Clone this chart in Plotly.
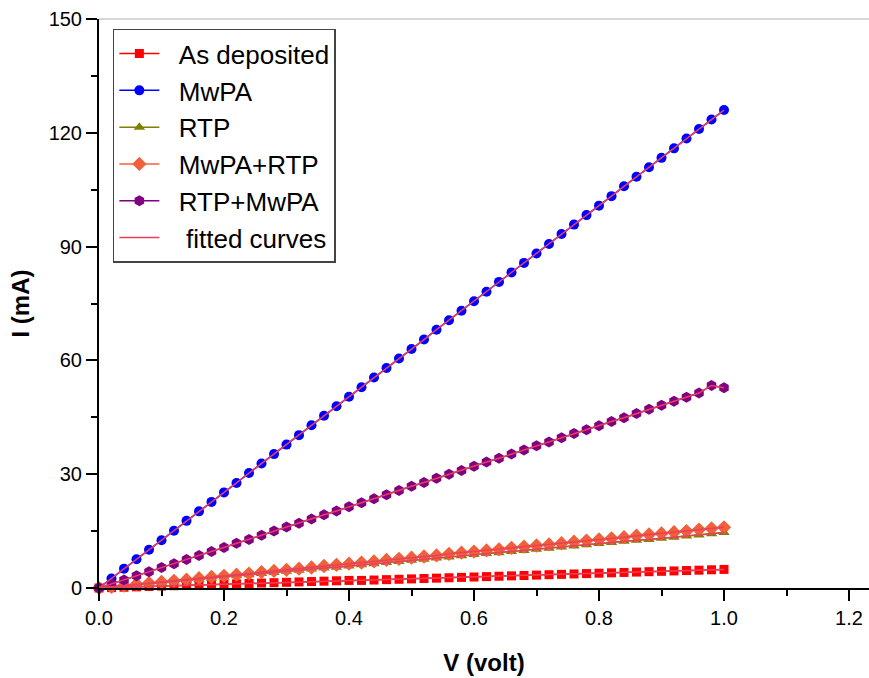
import plotly.graph_objects as go

# Bias voltage (V) for every sweep
voltage = [0.00, 0.02, 0.04, 0.06, 0.08, 0.10, 0.12, 0.14, 0.16, 0.18,
           0.20, 0.22, 0.24, 0.26, 0.28, 0.30, 0.32, 0.34, 0.36, 0.38,
           0.40, 0.42, 0.44, 0.46, 0.48, 0.50, 0.52, 0.54, 0.56, 0.58,
           0.60, 0.62, 0.64, 0.66, 0.68, 0.70, 0.72, 0.74, 0.76, 0.78,
           0.80, 0.82, 0.84, 0.86, 0.88, 0.90, 0.92, 0.94, 0.96, 0.98, 1.00]

# Measured current (mA)
i_as_deposited = [0, 0.1, 0.2, 0.3, 0.4, 0.5, 0.6, 0.7, 0.8, 0.9,
                  1.0, 1.1, 1.2, 1.3, 1.4, 1.5, 1.6, 1.7, 1.8, 1.9,
                  2.0, 2.0, 2.1, 2.2, 2.3, 2.4, 2.5, 2.6, 2.7, 2.8,
                  2.9, 3.0, 3.1, 3.2, 3.3, 3.4, 3.5, 3.6, 3.7, 3.8,
                  3.9, 4.0, 4.1, 4.2, 4.3, 4.4, 4.5, 4.6, 4.7, 4.8, 4.9]
i_mwpa = [0, 2.5, 5.1, 7.6, 10.1, 12.6, 15.1, 17.7, 20.2, 22.7,
          25.2, 27.7, 30.3, 32.8, 35.3, 37.8, 40.3, 42.9, 45.4, 47.9,
          50.4, 52.9, 55.5, 58.0, 60.5, 63.0, 65.5, 68.1, 70.6, 73.1,
          75.6, 78.1, 80.7, 83.2, 85.7, 88.2, 90.7, 93.3, 95.8, 98.3,
          100.8, 103.3, 105.9, 108.4, 110.9, 113.4, 115.9, 118.5, 121.0, 123.5, 126.0]
i_rtp = [0, 0.3, 0.6, 0.9, 1.2, 1.5, 1.8, 2.0, 2.3, 2.6,
         2.9, 3.2, 3.5, 3.8, 4.1, 4.4, 4.7, 5.0, 5.3, 5.5,
         5.8, 6.1, 6.4, 6.7, 7.0, 7.3, 7.6, 7.9, 8.2, 8.5,
         8.8, 9.1, 9.3, 9.6, 9.9, 10.2, 10.5, 10.8, 11.1, 11.4,
         11.7, 12.0, 12.3, 12.6, 12.8, 13.1, 13.4, 13.7, 14.0, 14.3, 14.6]
i_mwpa_rtp = [0, 0.3, 0.6, 1.0, 1.3, 1.6, 1.9, 2.2, 2.6, 2.9,
              3.2, 3.5, 3.8, 4.2, 4.5, 4.8, 5.1, 5.4, 5.8, 6.1,
              6.4, 6.7, 7.0, 7.4, 7.7, 8.0, 8.3, 8.6, 9.0, 9.3,
              9.6, 9.9, 10.2, 10.6, 10.9, 11.2, 11.5, 11.8, 12.2, 12.5,
              12.8, 13.1, 13.4, 13.8, 14.1, 14.4, 14.7, 15.0, 15.4, 15.7, 16.0]
i_rtp_mwpa = [0, 1.1, 2.1, 3.2, 4.3, 5.4, 6.4, 7.5, 8.6, 9.6,
              10.7, 11.8, 12.8, 13.9, 15.0, 16.1, 17.1, 18.2, 19.3, 20.3,
              21.4, 22.5, 23.5, 24.6, 25.7, 26.8, 27.8, 28.9, 30.0, 31.0,
              32.1, 33.2, 34.2, 35.3, 36.4, 37.5, 38.5, 39.6, 40.7, 41.7,
              42.8, 43.9, 44.9, 46.0, 47.1, 48.2, 49.2, 50.3, 51.4, 53.4, 52.8]

series_names = ["As deposited", "MwPA", "RTP", "MwPA+RTP", "RTP+MwPA"]
series_values = [i_as_deposited, i_mwpa, i_rtp, i_mwpa_rtp, i_rtp_mwpa]
series_colors = ["#ff0000", "#0000ff", "#808000", "#f0603a", "#800080"]
series_symbols = ["square", "circle", "triangle-up", "diamond", "hexagon"]
series_sizes = [9, 10, 10, 11, 11]

FIT_COLOR = "#e8405c"
FONT = "Liberation Sans, Arial, sans-serif"
PAD = "\u00a0\u00a0"

fig = go.Figure()

for name, vals, col, sym, sz in zip(series_names, series_values, series_colors,
                                    series_symbols, series_sizes):
    fig.add_trace(go.Scatter(
        x=voltage, y=vals, name=PAD + name, mode="lines+markers",
        line=dict(color=col, width=1.5),
        marker=dict(symbol=sym, size=sz, color=col, line=dict(width=0)),
        cliponaxis=False,
    ))

# Fitted curves drawn over all measured sweeps
fit_x, fit_y = [], []
for vals in series_values:
    fit_x += voltage + [None]
    fit_y += vals + [None]
fig.add_trace(go.Scatter(
    x=fit_x, y=fit_y, name=PAD + "\u00a0fitted curves", mode="lines",
    line=dict(color=FIT_COLOR, width=1.5), connectgaps=False,
))

axis_common = dict(
    showline=True, linecolor="black", linewidth=2,
    ticks="outside", ticklen=11, tickwidth=2, tickcolor="black",
    showgrid=False, zeroline=False,
    tickfont=dict(family=FONT, size=20, color="black"),
)

fig.update_layout(
    width=869, height=678,
    margin=dict(l=99, r=0, t=19, b=90),
    paper_bgcolor="white", plot_bgcolor="white",
    font=dict(family=FONT, color="black"),
    xaxis=dict(
        range=[0, 1.232], dtick=0.2, tick0=0, tickformat=".1f",
        minor=dict(dtick=0.1, ticks="outside", ticklen=6, tickwidth=2, tickcolor="black"),
        title=dict(text="<b>V (volt)</b>", font=dict(family=FONT, size=24), standoff=26),
        **axis_common,
    ),
    yaxis=dict(
        range=[0, 150], dtick=30, tick0=0,
        minor=dict(dtick=15, ticks="outside", ticklen=6, tickwidth=2, tickcolor="black"),
        title=dict(text="<b>I (mA)</b>", font=dict(family=FONT, size=24), standoff=12),
        **axis_common,
    ),
    legend=dict(
        x=0.018, y=0.983, xanchor="left", yanchor="top",
        bgcolor="white", bordercolor="#444", borderwidth=1.5,
        font=dict(family=FONT, size=26, color="black"),
        itemwidth=40, tracegroupgap=0,
    ),
    shapes=[dict(type="line", xref="paper", yref="paper", x0=0, x1=1, y0=1, y1=1,
                 line=dict(color="#b0b0b0", width=1))],
)

fig.write_html("out.html")
